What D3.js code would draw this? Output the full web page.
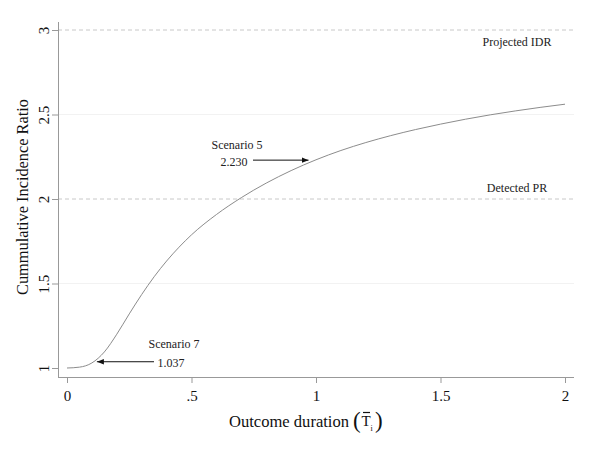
<!DOCTYPE html>
<html>
<head>
<meta charset="utf-8">
<script src="https://cdn.jsdelivr.net/npm/d3@7"></script>
<style>
  body { margin: 0; background: #fff; }
  svg text { font-family: "Liberation Serif", "Times New Roman", serif; }
</style>
</head>
<body>
<svg id="chart" width="600" height="450"></svg>
<script>
// curve
const durations = [0, 0.05, 0.1, 0.15, 0.2, 0.25, 0.3, 0.35, 0.4, 0.45, 0.5, 0.6, 0.7, 0.8, 0.9, 1.0, 1.1, 1.2, 1.3, 1.4, 1.5, 1.6, 1.7, 1.8, 1.9, 2.0];
const ratios = [1.0, 1.005, 1.03, 1.095, 1.20, 1.32, 1.435, 1.54, 1.633, 1.715, 1.788, 1.908, 2.008, 2.094, 2.168, 2.232, 2.287, 2.334, 2.375, 2.411, 2.443, 2.472, 2.498, 2.521, 2.542, 2.561];

const xTicks = [0, 0.5, 1, 1.5, 2];
const xTickLabels = ["0", ".5", "1", "1.5", "2"];
const yTicks = [1, 1.5, 2, 2.5, 3];
const yTickLabels = ["1", "1.5", "2", "2.5", "3"];

const refValues = [3, 2];
const refLabels = ["Projected IDR", "Detected PR"];

const scenarios = ["Scenario 5", "Scenario 7"];
const scenarioX = [0.97, 0.12];
const scenarioY = [2.23, 1.037];
const scenarioText = ["2.230", "1.037"];

const svg = d3.select("#chart");

const x = d3.scaleLinear().domain([0, 2]).range([67, 565]);
const y = d3.scaleLinear().domain([1, 3]).range([368, 30]);

const mLeft = 58, mRight = 574, mBottom = 377, mTop = 22;

// faint grid lines
svg.append("g")
  .selectAll("line")
  .data([1.5, 2.5])
  .enter().append("line")
  .attr("x1", mLeft).attr("x2", mRight)
  .attr("y1", d => y(d)).attr("y2", d => y(d))
  .attr("stroke", "#f2f2f2")
  .attr("stroke-width", 1);

// dashed reference lines
svg.append("g")
  .selectAll("line")
  .data(refValues)
  .enter().append("line")
  .attr("x1", mLeft).attr("x2", mRight)
  .attr("y1", d => y(d)).attr("y2", d => y(d))
  .attr("stroke", "#c8c8c8")
  .attr("stroke-width", 1)
  .attr("stroke-dasharray", "4,3");

// Projected IDR sits under its line, Detected PR above
svg.append("g")
  .selectAll("text")
  .data(refValues)
  .enter().append("text")
  .attr("x", 517)
  .attr("y", (d, i) => i === 0 ? y(d) + 16 : y(d) - 7)
  .attr("text-anchor", "middle")
  .attr("font-size", 12)
  .attr("fill", "#222")
  .text((d, i) => refLabels[i]);

// axes
const xAxis = svg.append("g")
  .attr("transform", "translate(0," + mBottom + ")")
  .call(d3.axisBottom(x).tickValues(xTicks).tickSize(6).tickSizeOuter(0)
    .tickFormat((d, i) => xTickLabels[i]));
xAxis.select(".domain").attr("d", "M" + mLeft + ",0.5H" + mRight).attr("stroke", "#999");
xAxis.selectAll(".tick line").attr("stroke", "#999");
xAxis.selectAll(".tick text")
  .attr("font-size", 15).attr("fill", "#111").attr("y", 13);

const yAxis = svg.append("g")
  .attr("transform", "translate(" + mLeft + ",0)")
  .call(d3.axisLeft(y).tickValues(yTicks).tickSize(6).tickSizeOuter(0)
    .tickFormat((d, i) => yTickLabels[i]));
yAxis.select(".domain").attr("d", "M0.5," + mTop + "V" + mBottom).attr("stroke", "#999");
yAxis.selectAll(".tick line").attr("stroke", "#999");
yAxis.selectAll(".tick text")
  .attr("font-size", 15).attr("fill", "#111")
  .attr("x", null).attr("dy", null)
  .attr("text-anchor", "middle")
  .attr("transform", "translate(-9,0) rotate(-90)");

// curve
const pts = durations.map((d, i) => [d, ratios[i]]);
svg.append("path")
  .datum(pts)
  .attr("fill", "none")
  .attr("stroke", "#8c8c8c")
  .attr("stroke-width", 1)
  .attr("d", d3.line().x(d => x(d[0])).y(d => y(d[1])).curve(d3.curveMonotoneX));

// arrows
svg.append("defs").append("marker")
  .attr("id", "arr")
  .attr("viewBox", "0 0 10 10")
  .attr("refX", 10).attr("refY", 5)
  .attr("markerWidth", 7).attr("markerHeight", 7)
  .attr("markerUnits", "userSpaceOnUse")
  .attr("orient", "auto")
  .append("path").attr("d", "M0,1L10,5L0,9Z").attr("fill", "#111");

const ann = svg.append("g");
// Scenario 5: text left of point, arrow pointing right
ann.append("text").attr("x", 237).attr("y", 149)
  .attr("text-anchor", "middle").attr("font-size", 12).attr("fill", "#222").text(scenarios[0]);
ann.append("text").attr("x", 234).attr("y", 166)
  .attr("text-anchor", "middle").attr("font-size", 12).attr("fill", "#222").text(scenarioText[0]);
ann.append("line")
  .attr("x1", 253).attr("x2", x(scenarioX[0]))
  .attr("y1", y(scenarioY[0])).attr("y2", y(scenarioY[0]))
  .attr("stroke", "#111").attr("stroke-width", 1)
  .attr("marker-end", "url(#arr)");

// Scenario 7: text right, arrow pointing left
ann.append("text").attr("x", 174).attr("y", 348)
  .attr("text-anchor", "middle").attr("font-size", 12).attr("fill", "#222").text(scenarios[1]);
ann.append("text").attr("x", 171).attr("y", 367)
  .attr("text-anchor", "middle").attr("font-size", 12).attr("fill", "#222").text(scenarioText[1]);
ann.append("line")
  .attr("x1", 154).attr("x2", x(scenarioX[1]))
  .attr("y1", y(scenarioY[1])).attr("y2", y(scenarioY[1]))
  .attr("stroke", "#111").attr("stroke-width", 1)
  .attr("marker-end", "url(#arr)");

// y title
svg.append("text")
  .attr("transform", "translate(28,197) rotate(-90)")
  .attr("text-anchor", "middle")
  .attr("font-size", 17)
  .attr("textLength", 196)
  .attr("lengthAdjust", "spacingAndGlyphs")
  .attr("fill", "#111")
  .text("Cummulative Incidence Ratio");

// x title with (T-bar sub i)
const xg = svg.append("g").attr("fill", "#111");
xg.append("text").attr("x", 229).attr("y", 427)
  .attr("font-size", 17)
  .attr("textLength", 120)
  .attr("lengthAdjust", "spacingAndGlyphs")
  .text("Outcome duration");
xg.append("text").attr("x", 353).attr("y", 428).attr("font-size", 23).text("(");
xg.append("text").attr("x", 361.5).attr("y", 426).attr("font-size", 15).text("T");
xg.append("text").attr("x", 370.5).attr("y", 431).attr("font-size", 8).text("i");
xg.append("text").attr("x", 375).attr("y", 428).attr("font-size", 23).text(")");
xg.append("line")
  .attr("x1", 363).attr("x2", 370)
  .attr("y1", 412.5).attr("y2", 412.5)
  .attr("stroke", "#111").attr("stroke-width", 1.2);
</script>
</body>
</html>
